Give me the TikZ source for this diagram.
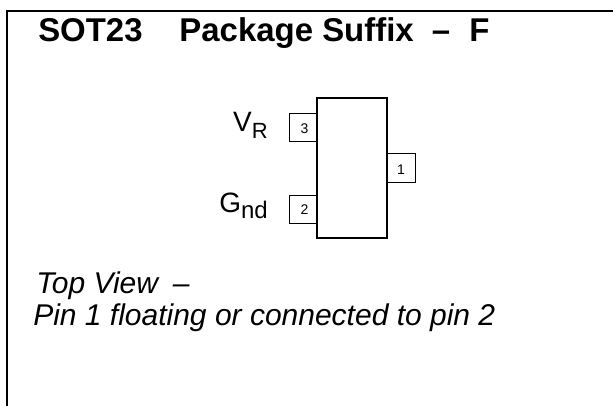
\documentclass[tikz,border=0pt]{standalone}
\usepackage{fontspec}
\setmainfont{Liberation Sans}
\tikzset{
  px/.style={x=0.75pt,y=-0.75pt},
  pkg/.style={draw=black,line width=0.9pt,fill=white},
  pinbox/.style={draw=black,line width=0.7pt,fill=white},
  pinnum/.style={inner sep=0pt,anchor=base,font=\fontsize{10.5}{12}\selectfont},
  sig/.style={inner sep=0pt,anchor=base east,font=\fontsize{21}{24}\selectfont},
  note/.style={inner sep=0pt,anchor=base west,font=\fontsize{22.5}{26}\selectfont\itshape}
}
\begin{document}
\begin{tikzpicture}[px]
\useasboundingbox (0,0) rectangle (613,406);
\draw[line width=1.5pt] (7,406) -- (7,11) -- (613,11);
\node[inner sep=0pt,anchor=base west,font=\fontsize{24.7}{28}\selectfont\bfseries] (title) at (38,42) {SOT23\hspace{1.12em}Package Suffix\hspace{0.55em}–\hspace{0.58em}F};
\draw[pinbox] (289,113) rectangle (317,141);
\draw[pinbox] (289,195) rectangle (317,223);
\draw[pinbox] (387,153) rectangle (415,182);
\draw[pkg] (317,98) rectangle (387,238);
\node[pinnum] (p3) at (304.5,133) {3};
\node[pinnum] (p2) at (304.5,214) {2};
\node[pinnum] (p1) at (401,174) {1};
\node[sig] (vr) at (268,132) {V\raisebox{-5.2pt}{\fontsize{16.5}{20}\selectfont R}};
\node[sig] (gnd) at (268,212) {G\raisebox{-5.2pt}{\fontsize{18}{20}\selectfont nd}};
\node[note] (n1) at (36,293) {Top View\hspace{0.5em}–};
\node[note] (n2) at (33,325) {Pin 1 floating or connected to pin 2};
\end{tikzpicture}
\end{document}
